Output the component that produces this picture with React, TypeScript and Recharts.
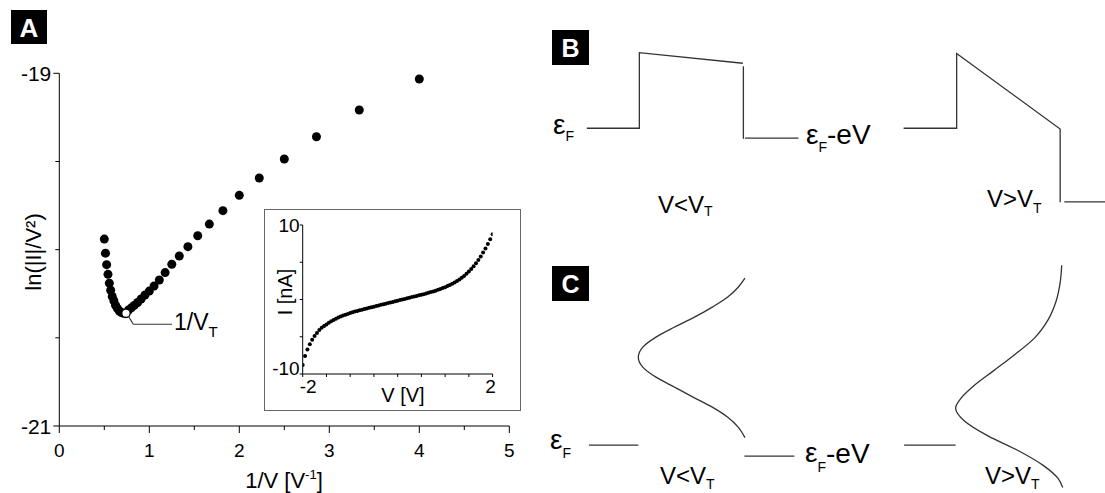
import React from 'react';
import { ScatterChart, Scatter, XAxis, YAxis, ReferenceLine } from 'recharts';

const FONT = '"Liberation Sans", Arial, Helvetica, sans-serif';
const INK = '#000';
const LINE = '#333';

// ---- panel A, main plot: ln(|I|/V^2) against 1/V ----
const inverseBias = [
  0.5, 0.513, 0.526, 0.541, 0.556, 0.571, 0.588, 0.606, 0.625, 0.645,
  0.667, 0.69, 0.714, 0.769, 0.8, 0.833, 0.87, 0.909, 0.952, 1.0,
  1.053, 1.111, 1.176, 1.25, 1.333, 1.429, 1.538, 1.667, 1.818, 2.0,
  2.222, 2.5, 2.857, 3.333, 4.0,
];
const lnCurrentOverV2 = [
  -19.94, -20.02, -20.085, -20.14, -20.19, -20.23, -20.265, -20.29, -20.315, -20.333,
  -20.348, -20.357, -20.361, -20.342, -20.33, -20.316, -20.3, -20.28, -20.257, -20.235,
  -20.206, -20.172, -20.13, -20.083, -20.036, -19.983, -19.921, -19.855, -19.779, -19.692,
  -19.594, -19.486, -19.36, -19.208, -19.032,
];
// the transition point 1/V_T (open marker)
const thresholdX = [0.741];
const thresholdY = [-20.361];
// leader line from the marker to its label
const leaderX = [0.767, 0.822, 1.252];
const leaderY = [-20.376, -20.423, -20.423];

const mainXTicks = [0, 0.5, 1, 1.5, 2, 2.5, 3, 3.5, 4, 4.5, 5];
const mainYTicks = [-21, -20.5, -20, -19.5, -19];

// ---- panel A, inset: I-V curve ----
const biasV = [
  -2, -1.95, -1.9, -1.85, -1.8, -1.75, -1.7, -1.65, -1.6, -1.55,
  -1.5, -1.45, -1.4, -1.35, -1.3, -1.25, -1.2, -1.15, -1.1, -1.05,
  -1, -0.95, -0.9, -0.85, -0.8, -0.75, -0.7, -0.65, -0.6, -0.55,
  -0.5, -0.45, -0.4, -0.35, -0.3, -0.25, -0.2, -0.15, -0.1, -0.05,
  0, 0.05, 0.1, 0.15, 0.2, 0.25, 0.3, 0.35, 0.4, 0.45,
  0.5, 0.55, 0.6, 0.65, 0.7, 0.75, 0.8, 0.85, 0.9, 0.95,
  1, 1.05, 1.1, 1.15, 1.2, 1.25, 1.3, 1.35, 1.4, 1.45,
  1.5, 1.55, 1.6, 1.65, 1.7, 1.75, 1.8, 1.85, 1.9, 1.95,
  2,
];
const currentNA = [
  -8.8, -7.6, -6.7, -6.0, -5.4, -4.9, -4.5, -4.1, -3.8, -3.55,
  -3.35, -3.12, -2.92, -2.74, -2.58, -2.43, -2.29, -2.16, -2.04, -1.93,
  -1.82, -1.72, -1.62, -1.53, -1.44, -1.36, -1.28, -1.2, -1.12, -1.04,
  -0.96, -0.88, -0.8, -0.72, -0.64, -0.56, -0.48, -0.4, -0.32, -0.24,
  -0.16, -0.08, 0, 0.08, 0.16, 0.24, 0.32, 0.4, 0.48, 0.56,
  0.64, 0.72, 0.81, 0.9, 0.99, 1.09, 1.19, 1.3, 1.41, 1.53,
  1.66, 1.8, 1.95, 2.11, 2.28, 2.47, 2.68, 2.91, 3.16, 3.44,
  3.75, 4.09, 4.46, 4.86, 5.3, 5.78, 6.3, 6.86, 7.46, 8.08,
  8.75,
];
const insetXTicks = [-2, -1.5, -1, -0.5, 0, 0.5, 1, 1.5, 2];
const insetYTicks = [-10, -5, 0, 5, 10];

// ---- panel B: tunnel barrier (position, energy), eps_F = 0, barrier height = 1 ----
const bLowBarrier = [
  { x: -1.01, y: 0 }, { x: 0, y: 0 }, { x: 0, y: 1 }, { x: 1.99, y: 0.86 },
];
const bLowDrop = [{ x: 2.0, y: 0.82 }, { x: 2.0, y: -0.14 }];
const bLowRight = [{ x: 2.03, y: -0.13 }, { x: 3.06, y: -0.13 }];
const bHighBarrier = [
  { x: 5.08, y: 0 }, { x: 6.1, y: 0 }, { x: 6.1, y: 0.99 }, { x: 8.09, y: -0.01 }, { x: 8.09, y: -0.98 },
];
const bHighRight = [{ x: 8.17, y: -0.975 }, { x: 8.96, y: -0.975 }];

// ---- panel C: molecular level broadening (position, energy) ----
const cLowLeft = [{ x: -0.97, y: 0 }, { x: -0.02, y: 0 }];
const cLowCurve = [
  { x: 2.03, y: 2.21 }, { x: 1.9, y: 2.09 }, { x: 1.7, y: 1.96 }, { x: 1.41, y: 1.83 },
  { x: 1.05, y: 1.69 }, { x: 0.67, y: 1.56 }, { x: 0.32, y: 1.43 }, { x: 0.07, y: 1.3 },
  { x: -0.02, y: 1.16 }, { x: 0.07, y: 1.03 }, { x: 0.32, y: 0.9 }, { x: 0.67, y: 0.77 },
  { x: 1.05, y: 0.63 }, { x: 1.41, y: 0.5 }, { x: 1.7, y: 0.37 }, { x: 1.9, y: 0.24 },
  { x: 2.03, y: 0.1 },
];
const cLowRight = [{ x: 2.02, y: -0.145 }, { x: 2.98, y: -0.145 }];
const cHighLeft = [{ x: 5.09, y: 0 }, { x: 6.08, y: 0 }];
const cHighCurve = [
  { x: 8.12, y: 2.38 }, { x: 8.09, y: 2.15 }, { x: 8.01, y: 1.9 }, { x: 7.86, y: 1.66 },
  { x: 7.6, y: 1.42 }, { x: 7.22, y: 1.2 }, { x: 6.8, y: 0.98 }, { x: 6.42, y: 0.78 },
  { x: 6.17, y: 0.61 }, { x: 6.08, y: 0.49 }, { x: 6.25, y: 0.32 }, { x: 6.71, y: 0.12 },
  { x: 7.28, y: -0.07 }, { x: 7.77, y: -0.27 }, { x: 8.05, y: -0.44 }, { x: 8.14, y: -0.56 },
];

const zip = (xs: number[], ys: number[]) => xs.map((x, i) => ({ x, y: ys[i] }));

const MainXTick = (props: any) => {
  const { x, y, payload } = props;
  const major = Number.isInteger(payload.value);
  return (
    <g>
      <line x1={x} y1={y} x2={x} y2={y + (major ? 7 : 4)} stroke={INK} />
      {major && (
        <text x={x} y={y + 31} textAnchor="middle" fontSize={19} fontFamily={FONT} fill={INK}>
          {payload.value}
        </text>
      )}
    </g>
  );
};

const MainYTick = (props: any) => {
  const { x, y, payload } = props;
  const labelled = payload.value === -19 || payload.value === -21;
  return (
    <g>
      <line x1={x} y1={y} x2={x - (labelled ? 6 : 4)} y2={y} stroke={INK} />
      {labelled && (
        <text x={x - 8} y={y + 7.5} textAnchor="end" fontSize={21} fontFamily={FONT} fill={INK}>
          {payload.value}
        </text>
      )}
    </g>
  );
};

const InsetXTick = (props: any) => {
  const { x, y, payload } = props;
  const v = payload.value;
  return (
    <g>
      <line x1={x} y1={y} x2={x} y2={y + 3} stroke={INK} />
      {v === -2 && (
        <text x={x - 3} y={y + 19} textAnchor="start" fontSize={19} fontFamily={FONT} fill={INK}>-2</text>
      )}
      {v === 2 && (
        <text x={x - 2} y={y + 19} textAnchor="middle" fontSize={19} fontFamily={FONT} fill={INK}>2</text>
      )}
    </g>
  );
};

const InsetYTick = (props: any) => {
  const { x, y, payload } = props;
  const v = payload.value;
  return (
    <g>
      <line x1={x} y1={y} x2={x - 3} y2={y} stroke={INK} />
      {v === 10 && (
        <text x={x - 3} y={y + 7} textAnchor="end" fontSize={19} fontFamily={FONT} fill={INK}>10</text>
      )}
      {v === -10 && (
        <text x={x - 3} y={y + 1} textAnchor="end" fontSize={19} fontFamily={FONT} fill={INK}>-10</text>
      )}
    </g>
  );
};

const Dot = (r: number) => (p: any) => <circle cx={p.cx} cy={p.cy} r={r} fill={INK} />;
const OpenDot = (p: any) => <circle cx={p.cx} cy={p.cy} r={4.2} fill="#fff" stroke={INK} strokeWidth={1.3} />;
const NoShape = () => <g />;

const wire = (data: { x: number; y: number }[], key: string, curve = 'linear') => (
  <Scatter
    key={key}
    data={data}
    fill={LINE}
    line={{ stroke: LINE, strokeWidth: 1.3 }}
    lineJointType={curve as any}
    shape={NoShape}
    isAnimationActive={false}
  />
);

export default function App() {
  const mainData = zip(inverseBias, lnCurrentOverV2);
  const threshold = zip(thresholdX, thresholdY);
  const leader = zip(leaderX, leaderY);
  const insetData = zip(biasV, currentNA);

  const sub = (t: string, size: number, dy: number) => (
    <tspan fontSize={size} dy={dy}>{t}</tspan>
  );

  return (
    <div style={{ position: 'absolute', left: 0, top: 0, width: 1105, height: 493, background: '#fff', overflow: 'hidden', fontFamily: FONT }}>
      {/* A: main plot */}
      <div style={{ position: 'absolute', left: 0, top: 0 }}>
        <ScatterChart width={540} height={493} margin={{ top: 73.3, right: 30.7, bottom: 0, left: 0 }}>
          <XAxis
            type="number"
            dataKey="x"
            domain={[0, 5]}
            ticks={mainXTicks}
            interval={0}
            allowDataOverflow
            height={67}
            tickSize={0}
            tickMargin={0}
            tickLine={false}
            tick={<MainXTick />}
            axisLine={{ stroke: INK }}
          />
          <YAxis
            type="number"
            dataKey="y"
            domain={[-21, -19]}
            ticks={mainYTicks}
            interval={0}
            allowDataOverflow
            width={59.3}
            tickSize={0}
            tickMargin={0}
            tickLine={false}
            tick={<MainYTick />}
            axisLine={{ stroke: INK }}
          />
          <ReferenceLine segment={[leader[0], leader[1]]} stroke={LINE} strokeWidth={1.2} />
          <ReferenceLine segment={[leader[1], leader[2]]} stroke={LINE} strokeWidth={1.2} />
          <Scatter data={mainData} shape={Dot(4.5)} isAnimationActive={false} />
          <Scatter data={threshold} shape={OpenDot} isAnimationActive={false} />
        </ScatterChart>
      </div>

      {/* A: inset */}
      <div
        style={{
          position: 'absolute', left: 264, top: 209, width: 257, height: 202,
          border: '1.5px solid #666', boxSizing: 'border-box', background: '#fff',
        }}
      />
      <div style={{ position: 'absolute', left: 264, top: 209 }}>
        <ScatterChart width={257} height={202} margin={{ top: 16, right: 28.4, bottom: 0, left: 0 }}>
          <XAxis
            type="number"
            dataKey="x"
            domain={[-2, 2]}
            ticks={insetXTicks}
            interval={0}
            allowDataOverflow
            height={37}
            tickSize={0}
            tickMargin={0}
            tickLine={false}
            tick={<InsetXTick />}
            axisLine={{ stroke: INK }}
          />
          <YAxis
            type="number"
            dataKey="y"
            domain={[-10, 10]}
            ticks={insetYTicks}
            interval={0}
            allowDataOverflow
            width={38.7}
            tickSize={0}
            tickMargin={0}
            tickLine={false}
            tick={<InsetYTick />}
            axisLine={{ stroke: INK }}
          />
          <Scatter data={insetData} shape={Dot(2)} isAnimationActive={false} />
        </ScatterChart>
      </div>

      {/* B: barrier diagrams */}
      <div style={{ position: 'absolute', left: 540, top: 20 }}>
        <ScatterChart width={565} height={220} margin={{ top: 0, right: 0, bottom: 0, left: 0 }}>
          <XAxis type="number" dataKey="x" domain={[-1.91, 8.952]} allowDataOverflow hide />
          <YAxis type="number" dataKey="y" domain={[-1.479, 1.4325]} allowDataOverflow hide />
          {wire(bLowBarrier, 'b1')}
          {wire(bLowDrop, 'b2')}
          {wire(bLowRight, 'b3')}
          {wire(bHighBarrier, 'b4')}
          {wire(bHighRight, 'b5')}
        </ScatterChart>
      </div>

      {/* C: level diagrams */}
      <div style={{ position: 'absolute', left: 540, top: 260 }}>
        <ScatterChart width={565} height={233} margin={{ top: 0, right: 0, bottom: 0, left: 0 }}>
          <XAxis type="number" dataKey="x" domain={[-1.91, 8.952]} allowDataOverflow hide />
          <YAxis type="number" dataKey="y" domain={[-0.6323, 2.4497]} allowDataOverflow hide />
          {wire(cLowLeft, 'c1')}
          {wire(cLowCurve, 'c2', 'monotoneY')}
          {wire(cLowRight, 'c3')}
          {wire(cHighLeft, 'c4')}
          {wire(cHighCurve, 'c5', 'monotoneY')}
        </ScatterChart>
      </div>

      {/* texts and panel letters */}
      <svg width={1105} height={493} style={{ position: 'absolute', left: 0, top: 0, pointerEvents: 'none' }} fontFamily={FONT}>
        <rect x={11} y={10} width={36} height={34} fill="#000" />
        <text x={29} y={37} fill="#fff" fontWeight="bold" fontSize={26} textAnchor="middle">A</text>
        <rect x={552} y={30} width={37} height={35} fill="#000" />
        <text x={570.5} y={57} fill="#fff" fontWeight="bold" fontSize={25} textAnchor="middle">B</text>
        <rect x={552} y={266} width={37} height={35} fill="#000" />
        <text x={570.5} y={293} fill="#fff" fontWeight="bold" fontSize={25} textAnchor="middle">C</text>

        {/* A axis titles */}
        <text x={284} y={488} fontSize={22} textAnchor="middle" fill={INK}>
          1/V [V<tspan fontSize={13} dy={-9}>-1</tspan><tspan dy={9}>]</tspan>
        </text>
        <text transform="translate(41,252) rotate(-90)" fontSize={22} textAnchor="middle" fill={INK}>
          ln(|I|/V²)
        </text>
        <text x={174} y={330} fontSize={23} fill={INK}>
          1/V{sub('T', 15, 7)}
        </text>

        {/* inset titles */}
        <text x={403} y={402} fontSize={20} textAnchor="middle" fill={INK}>V [V]</text>
        <text transform="translate(292,292) rotate(-90)" fontSize={20} textAnchor="middle" fill={INK}>I [nA]</text>

        {/* B labels */}
        <text x={553} y={133.5} fontSize={28} fill={INK}>ε{sub('F', 14, 7)}</text>
        <text x={806} y={143.5} fontSize={28} fill={INK}>
          ε{sub('F', 14, 8)}<tspan dy={-8}>-eV</tspan>
        </text>
        <text x={658} y={213} fontSize={24} fill={INK}>V&lt;V{sub('T', 14, 3)}</text>
        <text x={987} y={206.5} fontSize={24} fill={INK}>V&gt;V{sub('T', 14, 6)}</text>

        {/* C labels */}
        <text x={550} y={449} fontSize={28} fill={INK}>ε{sub('F', 14, 9)}</text>
        <text x={805} y={462} fontSize={28} fill={INK}>
          ε{sub('F', 14, 10)}<tspan dy={-9}>-eV</tspan>
        </text>
        <text x={660} y={484} fontSize={24} fill={INK}>V&lt;V{sub('T', 14, 5)}</text>
        <text x={985} y={484} fontSize={24} fill={INK}>V&gt;V{sub('T', 14, 5)}</text>
      </svg>
    </div>
  );
}
